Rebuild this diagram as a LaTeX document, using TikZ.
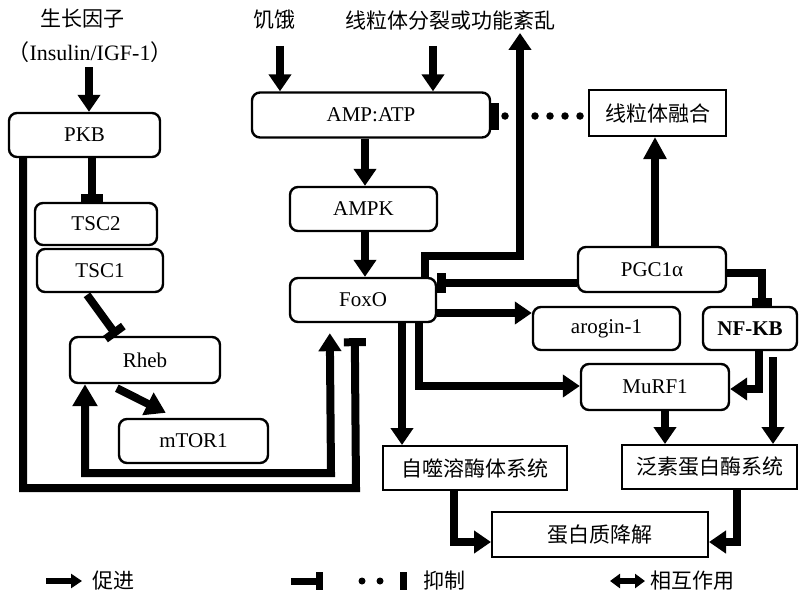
\documentclass[tikz,border=0pt]{standalone}
\usepackage{fontspec}
\setmainfont{Liberation Serif}
\newfontfamily\cjk{Noto Sans CJK SC}
\usetikzlibrary{arrows.meta}
\begin{document}
\begin{tikzpicture}[x=1pt,y=-1pt,
  rbox/.style={draw, line width=2.4pt, rounded corners=8pt, inner sep=0pt, fill=white, font=\fontsize{21}{25}\selectfont},
  sbox/.style={draw, line width=2pt, inner sep=0pt, fill=white, font=\cjk\fontsize{21}{25}\selectfont},
  lab/.style={inner sep=0pt, font=\cjk\fontsize{21}{25}\selectfont},
  arr/.style={line width=8pt, -{Triangle[width=22pt,length=17pt]}},
  inh/.style={line width=8pt, -{Rectangle[width=22pt,length=8pt]}},
  dotl/.style={line width=7.5pt, line cap=round, dash pattern=on 0pt off 15pt},
]
\fill[white] (0,0) rectangle (799,594);
\useasboundingbox (0,0) rectangle (799,594);

% top labels
\node[lab] (gf) at (82,19) {生长因子};
\node[inner sep=0pt, font=\fontsize{22}{26}\selectfont] (ins) at (90,52) {{\cjk （}Insulin/IGF-1{\cjk ）}};
\node[lab] (hunger) at (274,20) {饥饿};
\node[lab] (mito) at (450,20) {线粒体分裂或功能紊乱};

% rounded boxes
\node[rbox, minimum width=151pt, minimum height=44pt] (pkb) at (84.5,135) {PKB};
\node[rbox, minimum width=122pt, minimum height=42pt] (tsc2) at (96,224) {TSC2};
\node[rbox, minimum width=126pt, minimum height=43pt] (tsc1) at (100,270.5) {TSC1};
\node[rbox, minimum width=150pt, minimum height=46pt] (rheb) at (145,360) {Rheb};
\node[rbox, minimum width=149pt, minimum height=44pt] (mtor) at (193.5,441) {mTOR1};
\node[rbox, minimum width=238pt, minimum height=45pt] (amp) at (371,115) {AMP:ATP};
\node[rbox, minimum width=147pt, minimum height=44pt] (ampk) at (363.5,209) {AMPK};
\node[rbox, minimum width=146pt, minimum height=44pt] (foxo) at (363,300) {FoxO};
\node[rbox, minimum width=148pt, minimum height=45pt] (pgc) at (652,269.5) {PGC1α};
\node[rbox, minimum width=147pt, minimum height=43pt] (arog) at (606.5,328.5) {arogin-1};
\node[rbox, minimum width=94pt, minimum height=43pt] (nfkb) at (750,328.5) {\bfseries NF-KB};
\node[rbox, minimum width=148pt, minimum height=46pt] (murf) at (655,387) {MuRF1};

% square boxes
\node[sbox, minimum width=137pt, minimum height=46pt] (fus) at (657.5,113) {线粒体融合};
\node[sbox, minimum width=184pt, minimum height=44pt] (auto) at (475,468) {自噬溶酶体系统};
\node[sbox, minimum width=175pt, minimum height=44pt] (ubi) at (709.5,467) {泛素蛋白酶系统};
\node[sbox, minimum width=216pt, minimum height=45pt] (deg) at (600,534.5) {蛋白质降解};

% helper coordinates
\coordinate (c1) at (89,67);
\coordinate (x92) at (92,0);
\coordinate (b1) at (85,473);
\coordinate (b2) at (331,473);
\coordinate (p1) at (23,488);
\coordinate (p2) at (356,488);
\coordinate (h1) at (280,46);
\coordinate (m1) at (433,46);
\coordinate (x365) at (365,0);
\coordinate (d1) at (580,116);
\coordinate (u1) at (425,256);
\coordinate (u2) at (520,256);
\coordinate (x655) at (655,0);
\coordinate (y283) at (0,283);
\coordinate (n1) at (762,273);
\coordinate (y313) at (0,313);
\coordinate (f1) at (419,386);
\coordinate (x402) at (402,0);
\coordinate (k1) at (759,389);
\coordinate (x773) at (773,0);
\coordinate (x665) at (665,0);
\coordinate (g1) at (454,542);
\coordinate (g2) at (737,542);

% left part
\draw[arr] (c1) -- (c1 |- pkb.north);
\draw[inh] (x92 |- pkb.south) -- (x92 |- tsc2.north);
\draw[inh, shorten <=2pt] ([xshift=50pt]tsc1.south west) -- ([xshift=48pt]rheb.north west);
\draw[arr, -{Triangle[width=24pt,length=20pt]}] ([shift={(48,4)}]rheb.south west) -- ([shift={(48,-5)}]mtor.north west);
\draw[line width=8pt, {Triangle[width=24pt,length=22pt]}-{Triangle[width=22pt,length=18pt]}]
  (b1 |- rheb.south) -- (b1) -- (b2) -- ([shift={(41,10)}]foxo.south west);
\draw[inh] (p1 |- pkb.south) -- (p1) -- (p2) -- ([shift={(66,15)}]foxo.south west);

% middle column
\draw[arr] (h1) -- (h1 |- amp.north);
\draw[arr] (m1) -- (m1 |- amp.north);
\draw[arr] (x365 |- amp.south) -- (x365 |- ampk.north);
\draw[arr] (x365 |- ampk.south) -- (x365 |- foxo.north);

% dotted inhibition of AMP:ATP by fusion
\draw[dotl, -{Rectangle[width=27pt,length=8pt]}] (d1) -- (d1 -| amp.east);

% FoxO -> mitochondrial fission
\draw[arr] (u1 |- foxo.north) -- (u1) -- (u2) -- ([yshift=-3pt]u2 |- mito.south);

% right part
\draw[arr, -{Triangle[width=22pt,length=22pt]}] (x655 |- pgc.north) -- (x655 |- fus.south);
\draw[inh, -{Rectangle[width=20pt,length=9pt]}] (pgc.west |- y283) -- (foxo.east |- y283);
\draw[inh, -{Rectangle[width=20pt,length=8pt]}] (pgc.east |- n1) -- (n1) -- (n1 |- nfkb.north);
\draw[arr] (foxo.east |- y313) -- (arog.west |- y313);
\draw[arr] (f1 |- foxo.south) -- (f1) -- (f1 -| murf.west);
\draw[arr] (x402 |- foxo.south) -- (x402 |- auto.north);
\draw[arr] (k1 |- nfkb.south) -- (k1) -- (k1 -| murf.east);
\draw[arr, shorten <=6pt] (x773 |- nfkb.south) -- (x773 |- ubi.north);
\draw[arr] (x665 |- murf.south) -- (x665 |- ubi.north);
\draw[arr] (g1 |- auto.south) -- (g1) -- (g1 -| deg.west);
\draw[arr] (g2 |- ubi.south) -- (g2) -- (g2 -| deg.east);

% legend
\coordinate (L1) at (46,581);
\coordinate (L2) at (82,581);
\draw[line width=6pt, -{Triangle[width=14pt,length=11pt]}] (L1) -- (L2);
\node[lab, anchor=west] (lp) at (92,581) {促进};
\coordinate (L3) at (291,581);
\coordinate (L4) at (323,581);
\draw[line width=7pt, -{Rectangle[width=18pt,length=7pt]}] (L3) -- (L4);
\coordinate (L5) at (362,581);
\coordinate (L6) at (381,581);
\draw[line width=7pt, line cap=round, dash pattern=on 0pt off 18pt] (L5) -- (L6);
\fill (400,572) rectangle (407,590);
\node[lab, anchor=west] (li) at (423,581) {抑制};
\coordinate (L7) at (610,581);
\coordinate (L8) at (645,581);
\draw[line width=6pt, {Triangle[width=14pt,length=10pt]}-{Triangle[width=14pt,length=10pt]}] (L7) -- (L8);
\node[lab, anchor=west] (lm) at (650,581) {相互作用};
\end{tikzpicture}
\end{document}
